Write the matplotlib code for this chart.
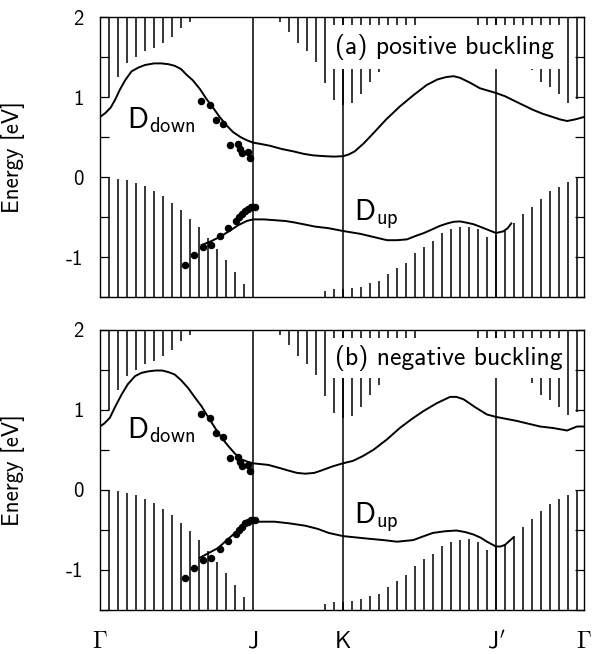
import numpy as np
import matplotlib
matplotlib.use("Agg")
import matplotlib.pyplot as plt
from matplotlib.patches import Rectangle
from matplotlib.ticker import MultipleLocator

plt.rcParams['font.family'] = ['cmss10', 'DejaVu Sans']
plt.rcParams['mathtext.fontset'] = 'cm'
plt.rcParams['axes.unicode_minus'] = False

# ---------------- data ----------------
# k-path (in units of the hatch spacing)
k_ticks = [0.0, 17.0, 27.0, 44.0, 53.78]
k_labels = [r'$\Gamma$', r'$\mathsf{J}$', r'$\mathsf{K}$', r"$\mathsf{J}'$", r'$\Gamma$']

# projected bulk bands: vertical hatch lines at k = 1..53
hatch_k = np.arange(1, 54)
nan = np.nan
hatch_upper = [1.00, 1.25, 1.42, 1.50, 1.57, 1.61, 1.67, 1.75, 1.86, 1.94,
               nan, nan, nan, nan, nan, nan, nan, nan, nan,
               1.94, 1.81, 1.67, 1.57, 1.44, 1.17, 0.96, 0.90, 0.92, 1.04,
               1.19, 1.31, 1.45, 1.60, 1.72, 1.85,
               nan, nan, nan, nan, nan, nan,
               1.80, 1.70, 1.60, 1.55, 1.50, 1.42, 1.34, 1.19, 1.12, 1.04,
               0.93, 0.97]
hatch_lower = [-0.005, -0.02, -0.04, -0.07, -0.11, -0.17, -0.24, -0.32, -0.41,
               -0.52, -0.63, -0.76, -0.90, -1.04, -1.19, -1.34,
               nan, nan, nan, nan, nan, nan, nan, nan,
               -1.43, -1.40, -1.40, -1.39, -1.37, -1.33, -1.30, -1.21, -1.14,
               -1.07, -0.95, -0.87, -0.80, -0.70, -0.65, -0.63, -0.62, -0.65,
               -0.75, -0.72, -0.68, -0.58, -0.46, -0.37, -0.27, -0.18, -0.12,
               -0.06, -0.01]

# experimental points (same in both panels)
exp_up_k = [11.22, 12.22, 12.86, 13.70, 14.44, 15.30, 15.56, 15.78, 16.48, 16.67]
exp_up_E = [0.95, 0.90, 0.71, 0.66, 0.40, 0.41, 0.35, 0.30, 0.31, 0.24]
exp_lo_k = [9.44, 10.44, 11.41, 12.30, 13.33, 14.26, 15.08, 15.44, 15.74,
            16.11, 16.41, 16.78, 17.22]
exp_lo_E = [-1.10, -0.98, -0.88, -0.85, -0.74, -0.64, -0.55, -0.50, -0.46,
            -0.42, -0.40, -0.38, -0.38]

# (a) positive buckling
a_down_k = [0.0, 0.6, 1.2, 1.7, 2.2, 2.8, 3.5, 4.3, 5.0, 6.0, 6.8, 7.6, 8.3,
            9.0, 9.6, 10.3, 11.1, 11.8, 12.6, 13.3, 14.1, 14.8, 15.6, 16.3,
            17.0, 18.0, 18.9, 20.2, 21.5, 22.6, 23.7, 25.0, 26.0, 27.0, 27.6,
            28.3, 29.3, 30.4, 31.8, 33.3, 34.8, 36.3, 37.5, 38.5, 39.3, 40.0,
            41.1, 42.2, 43.1, 44.0, 45.0, 45.9, 47.0, 48.1, 49.2, 50.3, 51.1,
            51.9, 52.8, 53.78]
a_down_E = [0.75, 0.80, 0.87, 0.97, 1.09, 1.21, 1.32, 1.37, 1.40, 1.42, 1.42,
            1.41, 1.39, 1.35, 1.28, 1.21, 1.10, 0.98, 0.86, 0.75, 0.64, 0.56,
            0.50, 0.46, 0.43, 0.41, 0.39, 0.35, 0.32, 0.29, 0.27, 0.26, 0.255,
            0.26, 0.28, 0.32, 0.42, 0.55, 0.72, 0.88, 1.02, 1.15, 1.22, 1.25,
            1.26, 1.24, 1.18, 1.11, 1.08, 1.05, 1.01, 0.96, 0.90, 0.84, 0.79,
            0.75, 0.72, 0.70, 0.72, 0.75]
a_up_k = [11.3, 12.2, 13.3, 14.3, 15.4, 16.3, 17.0, 18.2, 19.4, 20.6, 21.7,
          23.9, 25.4, 27.0, 28.9, 30.4, 31.9, 33.0, 34.1, 35.0, 36.0, 37.0,
          37.8, 38.6, 39.3, 40.0, 40.7, 41.5, 42.2, 43.1, 44.0, 44.8, 45.3,
          45.7]
a_up_E = [-0.85, -0.81, -0.75, -0.68, -0.60, -0.55, -0.53, -0.53, -0.54,
          -0.55, -0.57, -0.62, -0.64, -0.675, -0.71, -0.75, -0.79, -0.79,
          -0.78, -0.74, -0.70, -0.65, -0.61, -0.58, -0.56, -0.555, -0.57,
          -0.59, -0.62, -0.66, -0.70, -0.68, -0.64, -0.58]

# (b) negative buckling
b_down_k = [0.0, 0.5, 1.1, 1.7, 2.4, 3.1, 3.9, 4.6, 5.4, 6.2, 6.9, 7.6, 8.3,
            9.0, 9.8, 10.5, 11.3, 12.0, 12.8, 13.5, 14.3, 15.0, 15.7, 16.4,
            17.0, 18.7, 20.0, 20.9, 21.9, 22.8, 23.8, 24.6, 25.8, 27.0, 28.1,
            29.2, 30.4, 31.9, 33.3, 34.6, 35.9, 37.4, 38.9, 39.6, 40.4, 41.7,
            43.0, 44.0, 46.3, 48.9, 50.4, 51.9, 53.0, 53.78]
b_down_E = [0.79, 0.83, 0.90, 1.04, 1.19, 1.32, 1.42, 1.46, 1.48, 1.49, 1.49,
            1.47, 1.44, 1.37, 1.27, 1.16, 1.04, 0.91, 0.77, 0.65, 0.54, 0.45,
            0.38, 0.35, 0.33, 0.31, 0.27, 0.24, 0.21, 0.20, 0.21, 0.24, 0.29,
            0.33, 0.36, 0.42, 0.50, 0.63, 0.77, 0.88, 0.98, 1.08, 1.16, 1.16,
            1.13, 1.03, 0.94, 0.91, 0.86, 0.79, 0.77, 0.74, 0.79, 0.79]
b_up_k = [11.1, 12.1, 13.1, 14.1, 15.0, 16.1, 17.0, 18.2, 19.4, 21.0, 22.8,
          24.2, 25.4, 27.0, 29.6, 31.5, 33.0, 34.8, 36.0, 37.0, 38.3, 39.6,
          40.6, 41.5, 42.3, 43.0, 44.0, 44.5, 45.0, 45.9]
b_up_E = [-0.85, -0.79, -0.73, -0.63, -0.54, -0.44, -0.40, -0.40, -0.40,
          -0.42, -0.45, -0.49, -0.54, -0.58, -0.61, -0.63, -0.65, -0.63,
          -0.58, -0.54, -0.52, -0.51, -0.53, -0.56, -0.60, -0.65, -0.71,
          -0.71, -0.69, -0.60]

panels = [
    dict(title='(a) positive buckling', down=(a_down_k, a_down_E), up=(a_up_k, a_up_E),
         box_bottom=1.355, down_lab=(3.0, 0.61), up_lab=(28.2, -0.54)),
    dict(title='(b) negative buckling', down=(b_down_k, b_down_E), up=(b_up_k, b_up_E),
         box_bottom=1.40, down_lab=(3.0, 0.65), up_lab=(28.2, -0.42)),
]

# ---------------- figure ----------------
W, H = 593, 654
fig = plt.figure(figsize=(W / 100, H / 100), dpi=100)
ax_rects = [
    [100 / W, (H - 297) / H, 484 / W, 280 / H],
    [100 / W, (H - 609.7) / H, 484 / W, 280 / H],
]

for idx, (p, rect) in enumerate(zip(panels, ax_rects)):
    ax = fig.add_axes(rect)
    ax.set_xlim(k_ticks[0], k_ticks[-1])
    ax.set_ylim(-1.5, 2.0)

    up = np.array(hatch_upper, dtype=float)
    lo = np.array(hatch_lower, dtype=float)
    m = ~np.isnan(up)
    ax.vlines(hatch_k[m], up[m], 2.0, color='black', lw=1.1, zorder=1)
    m = ~np.isnan(lo)
    ax.vlines(hatch_k[m], -1.5, lo[m], color='black', lw=1.1, zorder=1)

    for kk in k_ticks[1:-1]:
        ax.axvline(kk, color='black', lw=1.1, zorder=1.5)

    ax.add_patch(Rectangle((25.5, p['box_bottom']), 26.0, 1.90 - p['box_bottom'],
                           facecolor='white', edgecolor='none', zorder=2))
    ax.text(26.1, (1.90 + p['box_bottom']) / 2, p['title'], fontsize=18.5,
            ha='left', va='center', zorder=3)

    ax.plot(*p['down'], color='black', lw=1.4, zorder=4)
    ax.plot(*p['up'], color='black', lw=1.4, zorder=4)
    ax.plot(exp_up_k, exp_up_E, 'o', color='black', ms=4.4, zorder=5)
    ax.plot(exp_lo_k, exp_lo_E, 'o', color='black', ms=4.4, zorder=5)

    ax.text(*p['down_lab'], r'$\mathsf{D}_{\mathsf{down}}$', fontsize=21,
            ha='left', va='baseline', zorder=6)
    ax.text(*p['up_lab'], r'$\mathsf{D}_{\mathsf{up}}$', fontsize=21,
            ha='left', va='baseline', zorder=6)

    ax.yaxis.set_major_locator(MultipleLocator(1.0))
    ax.yaxis.set_minor_locator(MultipleLocator(0.5))
    ax.tick_params(axis='y', which='both', direction='in', left=True, right=True,
                   length=6.5, width=0.9)
    ax.tick_params(axis='y', which='major', labelsize=15, pad=12)
    ax.set_xticks(k_ticks)
    ax.set_xticklabels(k_labels if idx == 1 else [])
    ax.tick_params(axis='x', length=0, labelsize=17, pad=15)
    ax.set_ylabel('Energy [eV]', fontsize=16.5)
    ax.yaxis.set_label_coords(-0.155, 0.5)
    for s in ax.spines.values():
        s.set_linewidth(1.0)

fig.savefig('out.png', dpi=100)
